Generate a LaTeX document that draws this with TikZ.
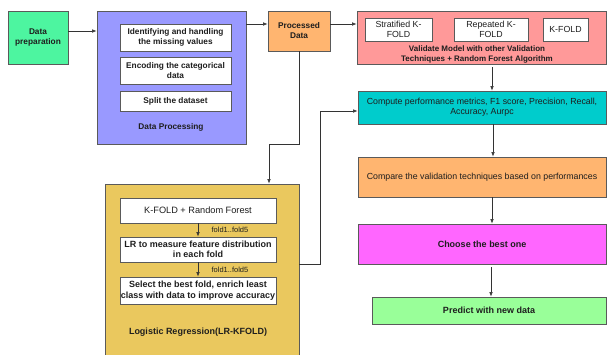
\documentclass[tikz,border=0pt]{standalone}
\usepackage{fontspec}
\setmainfont{Liberation Sans}
\usetikzlibrary{arrows.meta}
\definecolor{cprep}{RGB}{77,245,160}
\definecolor{cproc}{RGB}{153,153,255}
\definecolor{corange}{RGB}{255,181,112}
\definecolor{cred}{RGB}{255,153,153}
\definecolor{ccyan}{RGB}{0,204,204}
\definecolor{cmag}{RGB}{255,102,255}
\definecolor{cgreen}{RGB}{153,255,153}
\definecolor{cyel}{RGB}{234,200,94}
\definecolor{cline}{RGB}{90,90,90}
\definecolor{ctext}{RGB}{30,30,30}
\tikzset{
  box/.style={draw=cline, line width=0.8pt, rectangle, inner sep=1pt, align=center, text=ctext, font=\fontsize{8.8}{10}\selectfont},
  boldbox/.style={box, font=\bfseries\fontsize{8.3}{10}\selectfont},
  bigbold/.style={box, font=\bfseries\fontsize{9}{10.5}\selectfont},
  lbl/.style={text=ctext, align=center, font=\bfseries\fontsize{8.3}{10}\selectfont},
  arr/.style={draw=black!80, line width=0.6pt, -{Latex[length=4.5pt,width=3.5pt]}},
  foldlbl/.style={text=ctext, font=\fontsize{7.5}{8}\selectfont, anchor=west}
}
\begin{document}
\begin{tikzpicture}[x=1pt,y=-1pt]
\useasboundingbox (0,0) rectangle (607,354);
% Data preparation
\node[boldbox, fill=cprep, minimum width=60, minimum height=53] (prep) at (38,37.5) {Data\\preparation};
% Data processing
\node[box, fill=cproc, minimum width=149, minimum height=133] (dproc) at (171.5,77.5) {};
\node[boldbox, fill=white, minimum width=111, minimum height=27] (in1) at (175.5,37.5) {Identifying and handling\\the missing values};
\node[boldbox, fill=white, minimum width=111, minimum height=27] (in2) at (175.5,70.5) {Encoding the categorical\\data};
\node[boldbox, fill=white, minimum width=111, minimum height=20] (in3) at (175.5,101) {Split the dataset};
\node[lbl] (dplbl) at (171,127) {Data Processing};
% Processed data
\node[boldbox, fill=corange, minimum width=62, minimum height=40] (pd) at (299,31) {Processed\\Data};
% Validate
\node[box, fill=cred, minimum width=249, minimum height=53] (red) at (481.5,37.5) {};
\node[box, fill=white, minimum width=67, minimum height=23] (s1) at (398.5,29.5) {Stratified K-\\FOLD};
\node[box, fill=white, minimum width=74, minimum height=23] (s2) at (491,29.5) {Repeated K-\\FOLD};
\node[box, fill=white, minimum width=45, minimum height=23] (s3) at (565.5,29.5) {K-FOLD};
\node[lbl, font=\bfseries\fontsize{8}{10.5}\selectfont] (redlbl) at (477,54.5) {Validate Model with other Validation\\Techniques + Random Forest Algorithm};
% right column
\node[box, fill=ccyan, minimum width=248, minimum height=33] (cyan) at (482,107.5) {Compute performance metrics, F1 score, Precision, Recall,\\Accuracy, Aurpc};
\node[box, fill=corange, minimum width=248, minimum height=40] (cmp) at (482,177) {Compare the validation techniques based on performances};
\node[bigbold, fill=cmag, minimum width=248, minimum height=40] (mag) at (482,244) {Choose the best one};
\node[bigbold, fill=cgreen, minimum width=234, minimum height=27] (grn) at (489,310.5) {Predict with new data};
% Logistic regression
\node[box, fill=cyel, minimum width=194, minimum height=174] (yel) at (202,271) {};
\node[box, fill=white, minimum width=156, minimum height=25, font=\fontsize{9.2}{10.5}\selectfont] (k1) at (198,210.5) {K-FOLD + Random Forest};
\node[bigbold, fill=white, minimum width=156, minimum height=25] (k2) at (198,249.5) {LR to measure feature distribution\\in each fold};
\node[bigbold, fill=white, minimum width=156, minimum height=27] (k3) at (198,290.5) {Select the best fold, enrich least\\class with data to improve accuracy};
\node[lbl, font=\bfseries\fontsize{9}{10.5}\selectfont] (ylbl) at (198,332) {Logistic Regression(LR-KFOLD)};
% connectors
\coordinate (a1) at ([yshift=6.5pt]prep.east);
\draw[arr] (a1) -- (a1 -| dproc.west);
\coordinate (a2) at ([yshift=7pt]pd.west);
\draw[arr] (a2 -| dproc.east) -- (a2);
\coordinate (a3) at ([yshift=7pt]pd.east);
\draw[arr] (a3) -- (a3 -| red.west);
\coordinate (a4) at ([xshift=10.5pt]red.south);
\draw[arr] ([yshift=-3pt]a4) -- (a4 |- cyan.north);
\coordinate (a5) at ([xshift=11pt]cyan.south);
\draw[arr] (a5) -- (a5 |- cmp.north);
\coordinate (a6) at ([xshift=10pt]cmp.south);
\draw[arr] (a6) -- (a6 |- mag.north);
\coordinate (a7) at ([xshift=9pt]mag.south);
\draw[arr] ([yshift=-3pt]a7) -- (a7 |- grn.north);
\coordinate (a8) at ([xshift=67pt]yel.north);
\draw[arr] (pd.south) -- ++(0,93) -| (a8);
\coordinate (a9) at ([yshift=-3.5pt]cyan.west);
\draw[arr] ([yshift=7pt]yel.east) -- ++(21,0) |- (a9);
\draw[arr] (k1) -- (k2) node[foldlbl, midway, xshift=10pt] {fold1..fold5};
\draw[arr] (k2) -- (k3) node[foldlbl, midway, xshift=10pt] {fold1..fold5};
\end{tikzpicture}
\end{document}
